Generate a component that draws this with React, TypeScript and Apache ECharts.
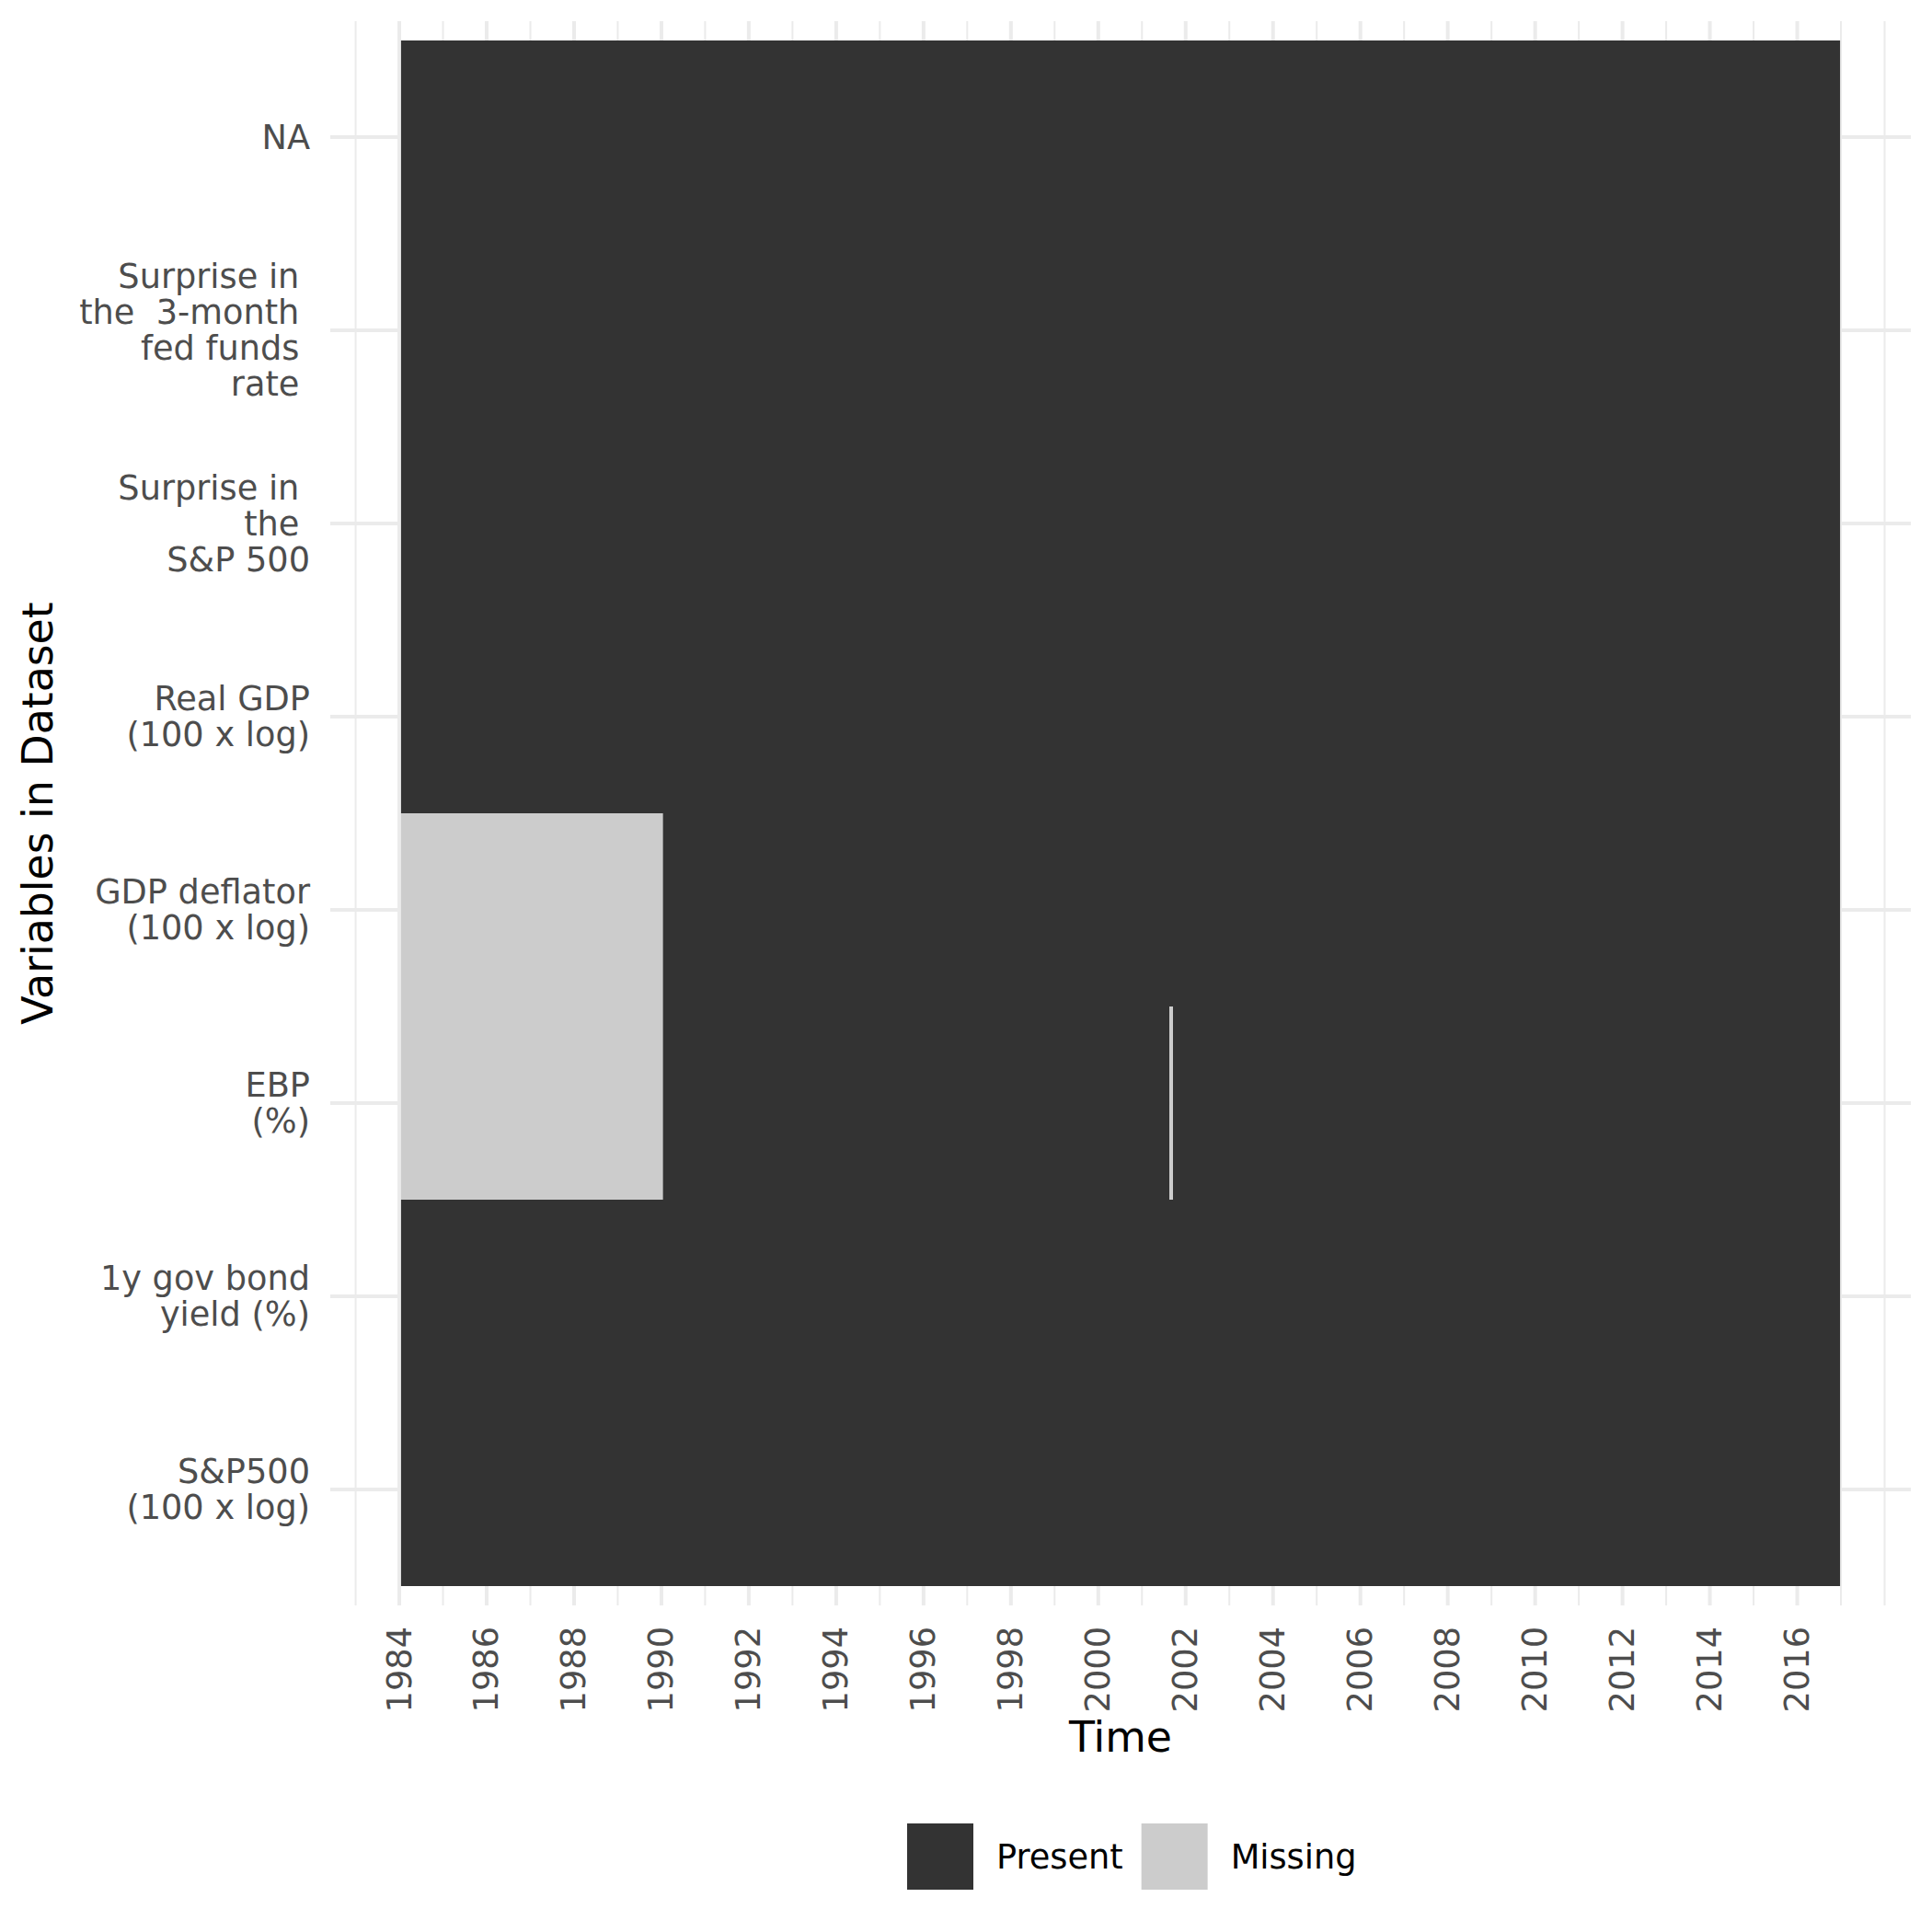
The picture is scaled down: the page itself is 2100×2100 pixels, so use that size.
import React, { useEffect, useRef } from "react";
import * as echarts from "echarts";

// ---- data ----
const rowLabels = [
  "NA",
  "Surprise in \nthe  3-month \nfed funds \nrate ",
  "Surprise in \nthe \nS&P 500",
  "Real GDP\n(100 x log)",
  "GDP deflator\n(100 x log)",
  "EBP\n(%)",
  "1y gov bond\nyield (%)",
  "S&P500\n(100 x log)",
];
const timeStart = 1984.04;
const timeEnd = 2016.98;
const missingRow = [4, 5, 5];
const missingStart = [1984.04, 1984.04, 2001.63];
const missingEnd = [1990.03, 1990.03, 2001.71];
const xTickLabels = [1984, 1986, 1988, 1990, 1992, 1994, 1996, 1998, 2000, 2002, 2004, 2006, 2008, 2010, 2012, 2014, 2016];
const xMinorBreaks = [1983, 1985, 1987, 1989, 1991, 1993, 1995, 1997, 1999, 2001, 2003, 2005, 2007, 2009, 2011, 2013, 2015, 2017, 2018];
const xRange = [1982.42, 2018.6];
const yRange = [-0.6, 7.6];
const legendNames = ["Present", "Missing"];

const PRESENT = "#333333";
const MISSING = "#CCCCCC";
const GRID = "#EBEBEB";
const FONT = "DejaVu Sans";

function buildPresent() {
  const out: number[][] = [];
  rowLabels.forEach((_, r) => {
    const miss = missingRow
      .map((mr, i) => (mr === r ? [missingStart[i], missingEnd[i]] : null))
      .filter((v) => v) as number[][];
    miss.sort((a, b) => a[0] - b[0]);
    let cur = timeStart;
    miss.forEach(([s, e]) => {
      if (s > cur) out.push([r, cur, s]);
      cur = Math.max(cur, e);
    });
    if (cur < timeEnd) out.push([r, cur, timeEnd]);
  });
  return out;
}

function buildMissing() {
  return missingRow.map((r, i) => [r, missingStart[i], missingEnd[i]]);
}

function buildGrid() {
  const out: number[][] = [];
  xMinorBreaks.forEach((x) => out.push([0, x, 2]));
  rowLabels.forEach((_, r) => out.push([1, r, 4]));
  xTickLabels.forEach((x) => out.push([0, x, 4]));
  return out;
}

function tileRender(color: string) {
  return (params: any, api: any) => {
    const r = api.value(0);
    const s = api.value(1);
    const e = api.value(2);
    const a = api.coord([s, r - 0.5]);
    const b = api.coord([e, r + 0.5]);
    return {
      type: "rect",
      shape: {
        x: a[0],
        y: Math.min(a[1], b[1]),
        width: b[0] - a[0],
        height: Math.abs(b[1] - a[1]),
      },
      style: { fill: color },
    };
  };
}

export default function App() {
  const ref = useRef<HTMLDivElement>(null);
  useEffect(() => {
    document.body.style.margin = "0";
    const chart = echarts.init(ref.current!, null, { renderer: "svg" });
    chart.setOption({
      animation: false,
      backgroundColor: "#FFFFFF",
      grid: { left: 359, right: 23, top: 23, bottom: 355, containLabel: false },
      xAxis: {
        type: "value",
        min: xRange[0],
        max: xRange[1],
        axisLine: { show: false },
        axisTick: { show: false },
        splitLine: { show: false },
        axisLabel: {
          customValues: xTickLabels,
          rotate: 90,
          margin: 23,
          fontFamily: FONT,
          fontSize: 36.7,
          color: "#4D4D4D",
          formatter: (v: number) => String(Math.round(v)),
        },
      },
      yAxis: {
        type: "value",
        inverse: true,
        min: yRange[0],
        max: yRange[1],
        axisLine: { show: false },
        axisTick: { show: false },
        splitLine: { show: false },
        axisLabel: {
          customValues: rowLabels.map((_, i) => i),
          margin: 22,
          fontFamily: FONT,
          fontSize: 36.7,
          lineHeight: 39,
          color: "#4D4D4D",
          align: "right",
          formatter: (v: number) => rowLabels[Math.round(v)],
        },
      },
      legend: {
        data: legendNames.map((n, i) => ({
          name: n,
          icon: "rect",
          itemStyle: { color: i === 0 ? PRESENT : MISSING },
        })),
        left: 986,
        top: 1982,
        padding: 0,
        itemWidth: 72,
        itemHeight: 72,
        itemGap: 20,
        selectedMode: false,
        textStyle: {
          fontFamily: FONT,
          fontSize: 36.7,
          color: "#000000",
          padding: [0, 0, 0, 20],
        },
      },
      graphic: [
        {
          type: "text",
          x: 1218,
          y: 1888,
          style: {
            text: "Time",
            fontFamily: FONT,
            fontSize: 45.8,
            fill: "#000000",
            textAlign: "center",
            textVerticalAlign: "middle",
          },
        },
        {
          type: "text",
          x: 41,
          y: 884,
          rotation: Math.PI / 2,
          style: {
            text: "Variables in Dataset",
            fontFamily: FONT,
            fontSize: 45.8,
            fill: "#000000",
            textAlign: "center",
            textVerticalAlign: "middle",
          },
        },
      ],
      series: [
        {
          type: "custom",
          name: "grid",
          silent: true,
          z: 1,
          data: buildGrid(),
          renderItem: (params: any, api: any) => {
            const kind = api.value(0);
            const v = api.value(1);
            const w = api.value(2);
            let a, b;
            if (kind === 0) {
              a = api.coord([v, yRange[0]]);
              b = api.coord([v, yRange[1]]);
            } else {
              a = api.coord([xRange[0], v]);
              b = api.coord([xRange[1], v]);
            }
            return {
              type: "line",
              shape: { x1: a[0], y1: a[1], x2: b[0], y2: b[1] },
              style: { stroke: GRID, lineWidth: w },
            };
          },
        },
        {
          type: "custom",
          name: "Present",
          z: 2,
          itemStyle: { color: PRESENT },
          data: buildPresent(),
          renderItem: tileRender(PRESENT),
        },
        {
          type: "custom",
          name: "Missing",
          z: 3,
          itemStyle: { color: MISSING },
          data: buildMissing(),
          renderItem: tileRender(MISSING),
        },
      ],
    });
    return () => chart.dispose();
  }, []);
  return (
    <div
      ref={ref}
      style={{ position: "absolute", left: 0, top: 0, width: 2100, height: 2100 }}
    />
  );
}
